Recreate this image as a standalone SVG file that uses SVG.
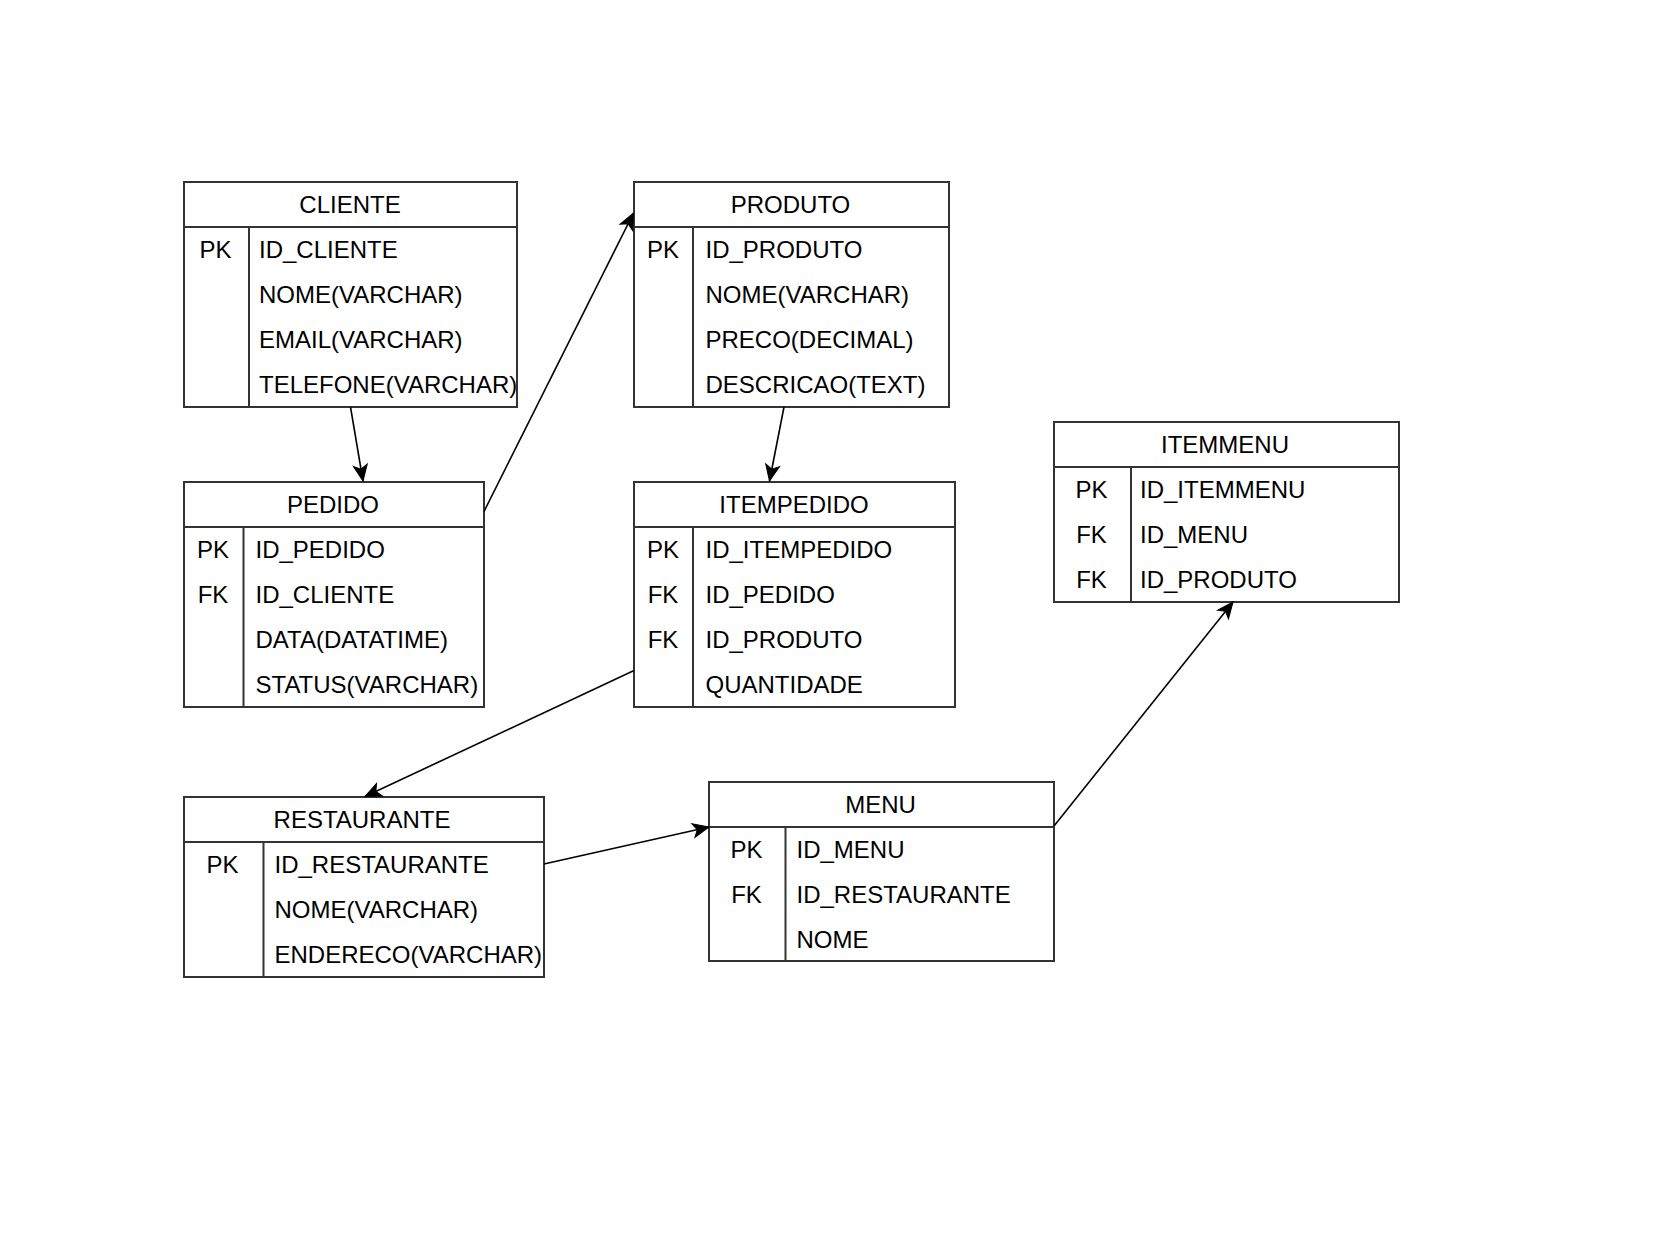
<svg xmlns="http://www.w3.org/2000/svg" width="1659" height="1241" viewBox="0 0 1659 1241">
<style>
.box{fill:#fff;stroke:#333;stroke-width:2}
.ln{stroke:#333;stroke-width:2;fill:none}
.t{font-family:"Liberation Sans",Arial,sans-serif;font-size:24px;fill:#000}
.c{text-anchor:middle}
.conn{stroke:#000;stroke-width:1.6;fill:none;marker-end:url(#arr)}
</style>
<defs>
<marker id="arr" markerUnits="userSpaceOnUse" markerWidth="20" markerHeight="18" refX="16" refY="8" orient="auto" overflow="visible">
<path d="M0,1 L16,8 L0,15 L4,8 Z" fill="#000" stroke="#000" stroke-width="1"/>
</marker>
</defs>
<rect width="1659" height="1241" fill="#fff"/>

<g id="cliente">
<rect class="box" x="184" y="182" width="333" height="225"/>
<line class="ln" x1="184" y1="227" x2="517" y2="227"/>
<line class="ln" x1="249" y1="227" x2="249" y2="407"/>
<text class="t c" x="350" y="212.5">CLIENTE</text>
<text class="t c" x="215.5" y="257.5">PK</text>
<text class="t" x="259" y="257.5">ID_CLIENTE</text>
<text class="t" x="259" y="302.5">NOME(VARCHAR)</text>
<text class="t" x="259" y="347.5">EMAIL(VARCHAR)</text>
<text class="t" x="259" y="392.5">TELEFONE(VARCHAR)</text>
</g>

<g id="produto">
<rect class="box" x="634" y="182" width="315" height="225"/>
<line class="ln" x1="634" y1="227" x2="949" y2="227"/>
<line class="ln" x1="693" y1="227" x2="693" y2="407"/>
<text class="t c" x="790.5" y="212.5">PRODUTO</text>
<text class="t c" x="663" y="257.5">PK</text>
<text class="t" x="705.5" y="257.5">ID_PRODUTO</text>
<text class="t" x="705.5" y="302.5">NOME(VARCHAR)</text>
<text class="t" x="705.5" y="347.5">PRECO(DECIMAL)</text>
<text class="t" x="705.5" y="392.5">DESCRICAO(TEXT)</text>
</g>

<g id="pedido">
<rect class="box" x="184" y="482" width="300" height="225"/>
<line class="ln" x1="184" y1="527" x2="484" y2="527"/>
<line class="ln" x1="243.5" y1="527" x2="243.5" y2="707"/>
<text class="t c" x="333" y="512.5">PEDIDO</text>
<text class="t c" x="213" y="557.5">PK</text>
<text class="t c" x="213" y="602.5">FK</text>
<text class="t" x="255.5" y="557.5">ID_PEDIDO</text>
<text class="t" x="255.5" y="602.5">ID_CLIENTE</text>
<text class="t" x="255.5" y="647.5">DATA(DATATIME)</text>
<text class="t" x="255.5" y="692.5">STATUS(VARCHAR)</text>
</g>

<g id="itempedido">
<rect class="box" x="634" y="482" width="321" height="225"/>
<line class="ln" x1="634" y1="527" x2="955" y2="527"/>
<line class="ln" x1="693" y1="527" x2="693" y2="707"/>
<text class="t c" x="794" y="512.5">ITEMPEDIDO</text>
<text class="t c" x="663" y="557.5">PK</text>
<text class="t c" x="663" y="602.5">FK</text>
<text class="t c" x="663" y="647.5">FK</text>
<text class="t" x="705.5" y="557.5">ID_ITEMPEDIDO</text>
<text class="t" x="705.5" y="602.5">ID_PEDIDO</text>
<text class="t" x="705.5" y="647.5">ID_PRODUTO</text>
<text class="t" x="705.5" y="692.5">QUANTIDADE</text>
</g>

<g id="itemmenu">
<rect class="box" x="1054" y="422" width="345" height="180"/>
<line class="ln" x1="1054" y1="467" x2="1399" y2="467"/>
<line class="ln" x1="1131" y1="467" x2="1131" y2="602"/>
<text class="t c" x="1225" y="452.5">ITEMMENU</text>
<text class="t c" x="1091.5" y="497.5">PK</text>
<text class="t c" x="1091.5" y="542.5">FK</text>
<text class="t c" x="1091.5" y="587.5">FK</text>
<text class="t" x="1140" y="497.5">ID_ITEMMENU</text>
<text class="t" x="1140" y="542.5">ID_MENU</text>
<text class="t" x="1140" y="587.5">ID_PRODUTO</text>
</g>

<g id="restaurante">
<rect class="box" x="184" y="797" width="360" height="180"/>
<line class="ln" x1="184" y1="842" x2="544" y2="842"/>
<line class="ln" x1="263.5" y1="842" x2="263.5" y2="977"/>
<text class="t c" x="362" y="827.5">RESTAURANTE</text>
<text class="t c" x="222.5" y="872.5">PK</text>
<text class="t" x="274.5" y="872.5">ID_RESTAURANTE</text>
<text class="t" x="274.5" y="917.5">NOME(VARCHAR)</text>
<text class="t" x="274.5" y="962.5">ENDERECO(VARCHAR)</text>
</g>

<g id="menu">
<rect class="box" x="709" y="782" width="345" height="179"/>
<line class="ln" x1="709" y1="827" x2="1054" y2="827"/>
<line class="ln" x1="785.5" y1="827" x2="785.5" y2="961"/>
<text class="t c" x="880.5" y="812.5">MENU</text>
<text class="t c" x="746.5" y="857.5">PK</text>
<text class="t c" x="746.5" y="902.5">FK</text>
<text class="t" x="796.5" y="857.5">ID_MENU</text>
<text class="t" x="796.5" y="902.5">ID_RESTAURANTE</text>
<text class="t" x="796.5" y="947.5">NOME</text>
</g>

<g id="connectors">
<line class="conn" x1="350.5" y1="407" x2="363" y2="481"/>
<line class="conn" x1="484" y1="511.5" x2="633.5" y2="213"/>
<line class="conn" x1="784" y1="407" x2="769.5" y2="481"/>
<line class="conn" x1="634" y1="670.5" x2="365" y2="796.5"/>
<line class="conn" x1="544" y1="864" x2="709" y2="827"/>
<line class="conn" x1="1054" y1="826" x2="1233" y2="602"/>
</g>
</svg>
